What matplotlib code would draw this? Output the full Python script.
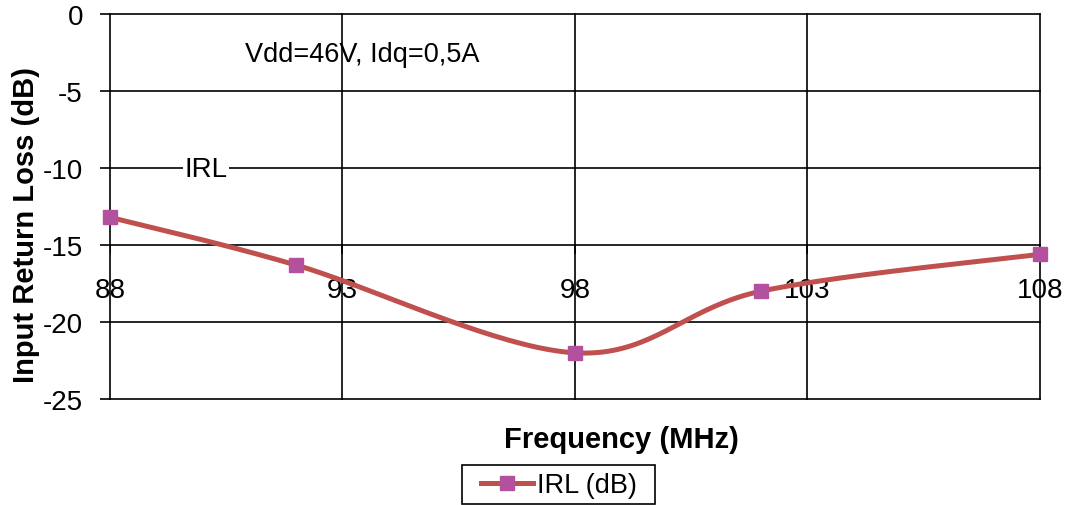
import numpy as np
import matplotlib
matplotlib.use("Agg")
import matplotlib.pyplot as plt
from matplotlib.patches import Rectangle

plt.rcParams["font.family"] = ["Liberation Sans", "DejaVu Sans"]

# data
freq_mhz = [88, 92, 98, 102, 108]
irl_db = [-13.2, -16.3, -22.0, -18.0, -15.6]
x_ticks = [88, 93, 98, 103, 108]
y_ticks = [0, -5, -10, -15, -20, -25]
series_label = "IRL (dB)"
note_text = "Vdd=46V, Idq=0,5A"
curve_label = "IRL"

LINE_COLOR = "#C0504D"
MARKER_COLOR = "#B4519E"


def smooth_curve(xs, ys, n=40):
    """Excel-style smoothed line: cubic Bezier segments, control points from neighbours."""
    xs = np.asarray(xs, float)
    ys = np.asarray(ys, float)
    px, py = [], []
    for i in range(len(xs) - 1):
        x0, y0 = (xs[i - 1], ys[i - 1]) if i > 0 else (xs[i], ys[i])
        x3, y3 = (xs[i + 2], ys[i + 2]) if i + 2 < len(xs) else (xs[i + 1], ys[i + 1])
        p1 = np.array([xs[i], ys[i]])
        p2 = np.array([xs[i + 1], ys[i + 1]])
        c1 = p1 + (p2 - np.array([x0, y0])) / 6.0
        c2 = p2 - (np.array([x3, y3]) - p1) / 6.0
        t = np.linspace(0, 1, n)[:, None]
        pts = ((1 - t) ** 3) * p1 + 3 * ((1 - t) ** 2) * t * c1 + 3 * (1 - t) * t ** 2 * c2 + t ** 3 * p2
        px.extend(pts[:, 0])
        py.extend(pts[:, 1])
    return np.array(px), np.array(py)


fig = plt.figure(figsize=(10.68, 5.06), dpi=100)
ax = fig.add_axes([110 / 1068, 1 - 400 / 506, 930 / 1068, 385 / 506])
ax.set_xlim(88, 108)
ax.set_ylim(-25, 0)

# grid lines (black), drawn as plain lines so the edges are full width
for xv in x_ticks:
    ax.axvline(xv, color="black", linewidth=1.2, zorder=1, clip_on=False)
for yv in y_ticks:
    ax.axhline(yv, color="black", linewidth=1.2, zorder=1, clip_on=False)

for s in ax.spines.values():
    s.set_visible(False)

# y ticks on the left
ax.set_yticks(y_ticks)
ax.set_yticklabels([str(v) for v in y_ticks], fontsize=20)
ax.tick_params(axis="y", length=7.5, width=1.2, pad=12)

# x axis crosses at -15, labels drawn below it
ax.set_xticks([])
for xv in x_ticks:
    ax.plot([xv, xv], [-15, -15.5], color="black", linewidth=1.2, zorder=1)
    ax.text(xv, -17.9, str(xv), ha="center", va="center", fontsize=20, zorder=2)

sx, sy = smooth_curve(freq_mhz, irl_db)
ax.plot(sx, sy, color=LINE_COLOR, linewidth=3.6, zorder=3, clip_on=False,
        solid_capstyle="round")
ax.plot(freq_mhz, irl_db, linestyle="none", marker="s", markersize=10.5,
        color=MARKER_COLOR, markeredgecolor=MARKER_COLOR, zorder=4, clip_on=False)

ax.text(93.43, -2.6, note_text, fontsize=19.5, ha="center", va="center", zorder=2)
ax.text(90.06, -10.05, curve_label, fontsize=20, ha="center", va="center", zorder=2,
        bbox=dict(facecolor="white", edgecolor="none", pad=1))

fig.text(621 / 1068, 1 - 440 / 506, "Frequency (MHz)", fontsize=21, fontweight="bold",
         ha="center", va="center")
fig.text(26 / 1068, 1 - 225 / 506, "Input Return Loss (dB)", fontsize=21, fontweight="bold",
         ha="center", va="center", rotation=90)

# legend: entry without frame, box drawn separately (wider padding like the original)
handle, = ax.plot([], [], color=LINE_COLOR, linewidth=3.6, marker="s", markersize=10.5,
                  markerfacecolor=MARKER_COLOR, markeredgecolor=MARKER_COLOR)
fig.legend([handle], [series_label], loc="center", bbox_to_anchor=(559 / 1068, 1 - 486 / 506),
           fontsize=19.5, frameon=False, handlelength=1.9,
           handletextpad=0.15, borderpad=0.25, borderaxespad=0)
fig.patches.append(Rectangle((462 / 1068, 1 - 505 / 506), 193 / 1068, 39 / 506,
                             transform=fig.transFigure, facecolor="none",
                             edgecolor="black", linewidth=1.2))

fig.savefig("out.png", dpi=100)
